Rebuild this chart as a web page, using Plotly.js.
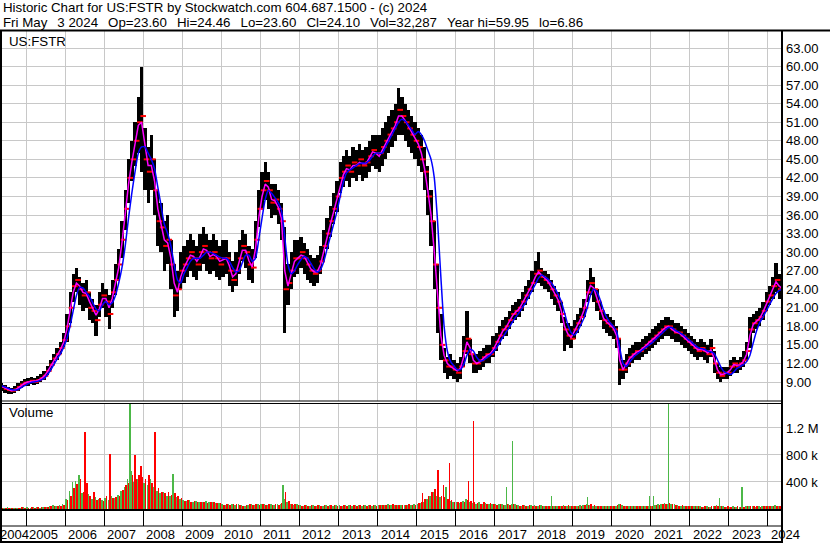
<!DOCTYPE html>
<html><head><meta charset="utf-8">
<script src="https://cdn.plot.ly/plotly-3.0.1.min.js"></script>
<style>html,body{margin:0;padding:0;background:#fff;overflow:hidden}#chart{width:830px;height:543px}</style>
</head><body><div id="chart"></div>
<script>
// ---------- DATA (monthly) ----------
const firstYear = 2004, firstMonth = 5; // May 2004 .. May 2024

const high = [
 8.9, 8.5, 8.2, 8.1, 8.4, 8.8, 9.2, 9.5,
 9.6, 9.8, 9.7, 9.9, 10.3, 10.8, 11.6, 12.6, 13.6, 14.5, 15.5, 17.0,
 20, 23.5, 26.5, 27.5, 26, 25, 25.5, 23.5, 22.5, 21.5, 23.5, 25,
 24, 23, 25.5, 28, 30.5, 35, 40, 45, 48, 51, 55, 60,
 50, 47, 49, 45, 40, 38, 35, 36, 32, 28, 27, 30,
 31, 32, 33, 32, 31, 33, 34, 33, 32, 33, 32, 31,
 32, 32, 30, 28.5, 30, 32, 33.5, 33, 31, 30.5, 35, 40,
 43, 44.5, 43, 41, 41, 40, 38, 34, 28, 30, 32, 32,
 32.5, 31.5, 30.5, 29.5, 29, 29.5, 31, 33.5, 35.5, 37.5, 39.5, 41.5,
 44.5, 45.5, 46.5, 45.5, 47, 46.5, 47.5, 46.5, 47, 48, 49, 49,
 49, 50, 51, 52, 53, 54, 56.5, 55, 54, 53, 52, 51,
 50, 49, 47, 44, 40, 35, 28, 20, 14.5, 13, 13.5, 12.5,
 12, 13, 16.5, 20.5, 16, 13.5, 13.5, 14, 14.5, 15, 15, 16.5,
 17, 18, 19, 19.5, 20.5, 21.5, 22, 22.5, 23.5, 24.5, 25.5, 27,
 28.5, 30, 27.5, 27, 26.5, 25.5, 24.5, 23.5, 22, 19.5, 18.5, 18,
 19, 20, 21, 22.5, 25.5, 27.5, 26, 24, 22, 20.5, 20, 19.5,
 19, 18, 16, 12.5, 13.5, 14.5, 15, 15.5, 15.5, 16, 16.5, 17,
 17.5, 18, 18.5, 19, 19.5, 19.5, 19, 18.5, 18.5, 18, 17.5, 17,
 16.5, 16, 15.5, 16, 15.5, 15, 16, 14, 12, 11.5, 11.5, 11.5,
 12.5, 13, 12.5, 13, 14, 15.5, 19.5, 20, 20.5, 21, 22, 23.5,
 24.5, 26, 28.2, 26.5, 24.5
];
const low = [
 7.6, 7.3, 7.0, 7.0, 7.2, 7.6, 8.0, 8.3,
 8.4, 8.6, 8.5, 8.7, 9.0, 9.4, 10.1, 11.0, 12.0, 12.6, 13.6, 14.6,
 15.5, 18.5, 22, 23.5, 21.5, 20.5, 21, 19, 18.5, 16.5, 19.5, 21,
 19.5, 17.5, 21, 23, 25.5, 29, 33.5, 38, 41.5, 44, 46, 43,
 40, 38, 40, 36, 31, 30, 27, 28, 24, 19.5, 20.5, 24,
 25, 26, 27, 26, 25.5, 27, 28, 27, 26.5, 27, 26, 25.5,
 26, 26.5, 24.5, 23.5, 24.5, 26.5, 28.5, 27.5, 25.5, 25, 29, 34,
 37, 38.5, 37, 35.5, 36, 34.5, 32, 17, 21.5, 24, 26, 26.5,
 27.5, 26.5, 25.5, 25, 24.5, 25, 26.5, 28.5, 30.5, 32.5, 34.5, 36.5,
 39.5, 40.5, 41.5, 40.5, 42, 41.5, 42.5, 41.5, 42, 43, 44, 43.5,
 43, 44, 45, 46, 47, 48, 49, 49, 48, 47, 46, 45,
 44, 43, 40, 36, 31, 24, 17, 12.5, 10.5, 9.5, 10, 9.5,
 9, 9.5, 11.5, 13.5, 12, 10.5, 10.5, 11, 11.5, 12, 12, 13,
 14, 15, 16, 16.5, 17.5, 18.5, 19, 19.5, 20.5, 21.5, 22.5, 23.5,
 25, 25, 24.5, 24, 23.5, 22.5, 21.5, 20.5, 18.5, 14, 15, 14.5,
 16, 17, 18, 19.5, 22, 23, 22, 20.5, 19, 17.5, 17, 16.5,
 16, 14.5, 8.5, 9.5, 10.5, 11.5, 12, 12.5, 12.5, 13, 13.5, 14,
 14.5, 15, 15.5, 16, 16.5, 16.5, 16, 15.5, 15.5, 15, 14.5, 14,
 13.5, 13, 12.5, 13, 12.5, 12, 13, 10.5, 9.5, 9, 9.5, 9.5,
 10, 10.5, 10.5, 11, 11.5, 12.5, 14.5, 17, 17.5, 18, 19, 20.5,
 21.5, 22.5, 23.5, 22.5, 23.6
];
const close = [
 8.2, 7.9, 7.7, 7.6, 7.8, 8.2, 8.6, 8.9,
 9.0, 9.2, 9.0, 9.3, 9.6, 10.0, 10.8, 11.8, 12.8, 13.5, 14.5, 15.8,
 18, 21, 24.5, 25.5, 24, 23, 23.5, 21, 20.5, 19, 21.5, 23,
 22, 20, 23.5, 25.5, 28, 32, 37, 42, 45, 48, 51, 52,
 45, 43, 45, 40, 35, 34, 31, 32, 28, 23, 24, 27,
 28, 29, 30, 29, 28, 30, 31, 30, 29, 30, 29, 28,
 29, 29, 27, 25.5, 27, 29, 31, 30, 28, 27.5, 32, 37,
 40, 41.5, 40, 38, 38.5, 37, 35, 24, 25, 27, 29, 29,
 30, 29, 28, 27, 26.5, 27, 28.5, 31, 33, 35, 37, 39,
 42, 43, 44, 43, 44.5, 44, 45, 44, 44.5, 45.5, 46.5, 46,
 46, 47, 48, 49, 50, 51, 53, 52, 51, 50, 49, 48,
 47, 45, 43, 39, 35, 28, 21, 15, 12.5, 11.5, 11.5, 11,
 10.5, 11.5, 14, 16, 13.5, 12, 12, 12.5, 13, 13.5, 13.5, 14.5,
 15.5, 16.5, 17.5, 18, 19, 20, 20.5, 21, 22, 23, 24, 25,
 26.5, 27, 26, 25.5, 25, 24, 23, 22, 20, 17.5, 16.5, 16,
 17.5, 18.5, 19.5, 21, 23.5, 25, 24, 22, 20.5, 19, 18.5, 18,
 17.5, 16, 11, 11, 12, 13, 13.5, 14, 14, 14.5, 15, 15.5,
 16, 16.5, 17, 17.5, 18, 18, 17.5, 17, 17, 16.5, 16, 15.5,
 15, 14.5, 14, 14.5, 14, 13.5, 14.5, 12, 10.5, 10, 10.5, 10.5,
 11.5, 12, 11.5, 12, 12.5, 14, 17.5, 18.5, 19, 19.5, 20.5, 22,
 23, 24.5, 25.5, 24, 24.1
];
const maFast = [
 8.3, 8.0, 7.8, 7.6, 7.7, 8.0, 8.4, 8.8,
 9.0, 9.1, 9.1, 9.2, 9.5, 9.9, 10.6, 11.5, 12.5, 13.3, 14.2, 15.4,
 17.5, 20.5, 23.5, 25, 24.5, 23.5, 23.3, 22, 20.8, 19.8, 20.8, 22.5,
 22.5, 21, 22.5, 25, 27.5, 31.5, 36.5, 41, 44.5, 47.5, 50.5, 51,
 47, 44, 44, 41.5, 37, 34.5, 32, 31.5, 29, 25, 23.5, 26,
 27.5, 28.5, 29.5, 29.3, 28.5, 29.3, 30.5, 30.3, 29.3, 29.6, 29.3, 28.5,
 28.8, 29, 27.8, 26, 26.5, 28.3, 30.3, 30.3, 28.6, 27.6, 30.5, 35.5,
 39, 41, 40.5, 38.5, 38.3, 37.3, 35.5, 27, 24.5, 26.5, 28.5, 29,
 29.5, 29.3, 28.3, 27.3, 26.8, 26.8, 28, 30.3, 32.5, 34.5, 36.5, 38.5,
 41, 42.5, 43.5, 43.3, 44, 44, 44.5, 44.3, 44.3, 45.2, 46.2, 46,
 45.5, 46.5, 47.5, 48.5, 49.5, 50.5, 52, 52, 51.3, 50.3, 49.3, 48.3,
 47.5, 46, 43.5, 40, 36, 30, 23, 16.5, 13.3, 12, 11.5, 11.2,
 10.8, 11.2, 13, 15.5, 14.5, 12.5, 12, 12.3, 12.8, 13.3, 13.5, 14.2,
 15.2, 16.2, 17.2, 17.8, 18.7, 19.7, 20.3, 20.8, 21.7, 22.7, 23.7, 24.7,
 26, 26.8, 26.3, 25.7, 25.2, 24.3, 23.3, 22.3, 20.5, 18, 16.8, 16.2,
 17.2, 18.2, 19.2, 20.6, 23, 24.6, 24.2, 22.5, 20.8, 19.3, 18.7, 18.2,
 17.7, 16.5, 12.5, 11, 11.8, 12.8, 13.3, 13.8, 14, 14.4, 14.9, 15.4,
 15.8, 16.3, 16.8, 17.3, 17.8, 18, 17.6, 17.1, 17, 16.6, 16.1, 15.6,
 15.2, 14.7, 14.2, 14.3, 14.1, 13.7, 14.2, 12.8, 11, 10.2, 10.3, 10.5,
 11, 11.8, 11.7, 11.8, 12.3, 13.5, 16.5, 18.3, 18.8, 19.3, 20.3, 21.5,
 22.7, 24, 25.2, 24.5, 24.1
];
const maSlow = [
 8.4, 8.2, 8.0, 7.8, 7.7, 7.8, 8.1, 8.4,
 8.7, 8.9, 9.0, 9.1, 9.3, 9.6, 10.1, 10.9, 11.8, 12.7, 13.5, 14.6,
 16, 18, 20.5, 23, 24.3, 24.2, 23.5, 22.8, 21.8, 20.8, 20.5, 21.5,
 22, 21.5, 21.8, 23, 25, 27.5, 31, 35.5, 39.5, 43, 46, 47,
 47, 46, 45, 43.5, 40.5, 37.5, 34.5, 33, 31, 28, 25.5, 25,
 26.5, 27.5, 28.5, 29, 29, 29, 29.5, 30, 30, 29.8, 29.5, 29.2,
 29, 29, 28.5, 27.5, 26.8, 27, 28.3, 29.5, 29.5, 28.5, 29, 32,
 35.5, 38.5, 40, 39.5, 38.8, 38, 36.8, 32.5, 28, 26.5, 27, 28,
 28.8, 29.3, 29, 28.2, 27.3, 26.8, 27.2, 28.5, 30.5, 32.5, 34.5, 36.5,
 39, 41.3, 42.8, 43.3, 43.6, 44, 44.3, 44.4, 44.4, 44.8, 45.5, 46,
 46, 46, 47, 48, 49, 50, 51, 51.5, 51.2, 50.5, 49.8, 49,
 49.5, 49, 48, 46.5, 45, 42, 35, 26, 18, 14, 12.3, 11.6,
 11, 11, 11.8, 13.3, 14.3, 14, 13, 12.4, 12.5, 12.9, 13.3, 13.8,
 14.5, 15.3, 16.2, 17, 17.8, 18.7, 19.5, 20.2, 21, 21.8, 22.8, 23.8,
 24.8, 25.8, 26.3, 26, 25.6, 25, 24.2, 23.2, 22, 20.2, 18.3, 17,
 16.6, 17.2, 18.2, 19.3, 21, 23, 24, 23.6, 22.2, 20.6, 19.4, 18.6,
 18, 17.2, 14.5, 12, 11.5, 12.2, 12.9, 13.4, 13.8, 14.2, 14.6, 15,
 15.4, 15.9, 16.4, 16.9, 17.4, 17.8, 17.8, 17.4, 17.1, 16.8, 16.4, 15.9,
 15.5, 15, 14.6, 14.4, 14.3, 14, 13.9, 13.6, 12.6, 11.5, 10.7, 10.4,
 10.2, 10.6, 11.2, 11.5, 11.8, 12.3, 13.3, 15.3, 17.2, 18.6, 19.5, 20.5,
 21.5, 22.5, 23.3, 23.8, 24
];
// volume, thousands of shares (up-day and down-day envelopes per month)
const volUpK = [
 20, 15, 25, 15, 20, 15, 20, 25,
 25, 20, 30, 25, 20, 30, 35, 40, 55, 45, 60, 70,
 150, 260, 400, 420, 300, 240, 180, 220, 150, 180, 150, 130,
 160, 130, 200, 160, 210, 260, 330, 450, 560, 400, 450, 380,
 380, 350, 440, 320, 260, 230, 250, 190, 200, 250, 180, 150,
 140, 120, 130, 110, 120, 100, 110, 120, 100, 110, 95, 85,
 70, 60, 70, 80, 60, 70, 60, 50, 60, 70, 60, 70,
 80, 70, 60, 70, 60, 70, 80, 150, 100, 80, 60, 70,
 60, 50, 60, 50, 55, 45, 60, 50, 55, 60, 50, 55,
 55, 50, 60, 55, 50, 60, 55, 50, 60, 55, 50, 55,
 60, 55, 60, 70, 60, 55, 65, 60, 55, 60, 65, 70,
 80, 90, 100, 150, 200, 250, 200, 180, 150, 200, 120, 100,
 100, 90, 120, 150, 110, 90, 80, 100, 80, 90, 80, 70,
 70, 80, 70, 60, 70, 80, 70, 60, 50, 60, 50, 60,
 60, 50, 60, 50, 45, 50, 45, 50, 40, 55, 45, 50,
 45, 50, 55, 60, 70, 60, 50, 45, 50, 40, 45, 40,
 40, 50, 70, 60, 50, 45, 50, 40, 45, 50, 40, 45,
 50, 60, 70, 80, 90, 70, 80, 70, 60, 50, 45, 50,
 45, 40, 45, 40, 35, 40, 35, 40, 60, 45, 40, 35,
 35, 40, 35, 30, 40, 45, 50, 40, 35, 40, 45, 40,
 50, 45, 55, 50, 40
];
const volDownK = [
 15, 20, 15, 20, 15, 20, 25, 20,
 20, 25, 20, 30, 25, 25, 30, 45, 40, 50, 50, 60,
 130, 190, 310, 370, 450, 250, 310, 190, 180, 130, 160, 120,
 190, 170, 160, 180, 200, 280, 350, 380, 500, 440, 500, 470,
 440, 500, 380, 350, 310, 250, 230, 250, 210, 230, 190, 160,
 120, 130, 110, 120, 100, 110, 100, 90, 110, 100, 90, 95,
 60, 70, 60, 70, 80, 60, 50, 60, 70, 60, 70, 60,
 70, 60, 70, 60, 70, 60, 90, 250, 120, 70, 70, 60,
 50, 60, 50, 55, 45, 55, 50, 60, 50, 55, 60, 50,
 50, 55, 50, 60, 55, 50, 60, 55, 50, 60, 55, 50,
 55, 60, 65, 60, 70, 60, 55, 65, 60, 70, 60, 65,
 90, 100, 150, 200, 250, 300, 250, 200, 180, 150, 130, 110,
 110, 100, 100, 130, 120, 100, 90, 80, 100, 80, 90, 80,
 60, 70, 60, 70, 60, 70, 60, 50, 60, 50, 60, 50,
 50, 60, 50, 45, 50, 45, 50, 40, 50, 45, 55, 45,
 50, 45, 50, 55, 60, 70, 60, 50, 45, 50, 40, 45,
 45, 60, 80, 50, 45, 50, 40, 45, 40, 45, 50, 40,
 45, 55, 65, 70, 80, 90, 70, 60, 50, 60, 50, 45,
 40, 45, 40, 35, 40, 35, 40, 45, 50, 40, 35, 40,
 30, 35, 40, 35, 35, 40, 45, 50, 40, 35, 40, 45,
 45, 50, 50, 45, 35
];
// single-day volume spikes
const spikeDates = ['2006-05-10','2006-07-05','2006-07-25','2006-09-27','2007-02-25','2007-09-01','2007-10-18','2007-12-12','2008-04-22','2008-10-08','2011-08-03','2015-02-25','2015-07-22','2015-09-10','2015-10-01','2015-11-05','2016-04-30','2016-06-18','2017-04-23','2017-06-15','2018-06-15','2019-05-20','2020-12-20','2021-01-25','2021-06-15','2022-10-05','2023-05-01'];
const spikeVolK  = [500, 1140, 380, 250, 820, 1600, 800, 640, 1140, 520, 350, 230, 580, 350, 320, 680, 410, 1300, 320, 1000, 200, 180, 190, 200, 1550, 160, 330];
const spikeUp    = [1, 0, 0, 0, 0, 1, 0, 0, 0, 1, 1, 0, 0, 0, 1, 0, 0, 0, 1, 1, 1, 1, 1, 1, 1, 1, 1];

const priceTicks = [9, 12, 15, 18, 21, 24, 27, 30, 33, 36, 39, 42, 45, 48, 51, 54, 57, 60, 63];
const volTicks = [400000, 800000, 1200000];
const volTickText = ['400 k', '800 k', '1.2 M'];
const yearLabels = ['2004','2005','2006','2007','2008','2009','2010','2011','2012','2013','2014','2015','2016','2017','2018','2019','2020','2021','2022','2023','2024'];

const headerLine1 = 'Historic Chart for US:FSTR by Stockwatch.com 604.687.1500 - (c) 2024';
const headerLine2 = ['Fri May', '3 2024', 'Op=23.60', 'Hi=24.46', 'Lo=23.60', 'Cl=24.10', 'Vol=32,287', 'Year hi=59.95', 'lo=6.86'];

// ---------- BUILD ----------
const W = 830, H = 543, DAY = 86400000;
const FONT = 'Liberation Sans, Arial, sans-serif';
const months = high.map((_, i) => {
  const m = firstMonth - 1 + i;
  const y = firstYear + Math.floor(m / 12);
  return y + '-' + String(m % 12 + 1).padStart(2, '0') + '-01';
});
const px = v => v / W;
const py = v => 1 - v / H;
const GREEN = '#4cb848', RED = '#ff0000';
const GAP = '\u00a0\u00a0\u2009';

const traces = [
  { type: 'bar', x: months, base: low, y: high.map((h, i) => h - low[i]),
    offset: 0, width: 31 * DAY, marker: { color: '#000', line: { width: 0 } },
    xaxis: 'x', yaxis: 'y', hoverinfo: 'skip' },
  { type: 'scatter', mode: 'markers', x: months, y: close, xperiod: 'M1', xperiodalignment: 'end',
    marker: { symbol: 'line-ew', size: 4, line: { color: RED, width: 2 } }, xaxis: 'x', yaxis: 'y' },
  { type: 'scatter', mode: 'lines', x: months, y: maFast, xperiod: 'M1', xperiodalignment: 'middle',
    line: { color: '#ff00ff', width: 1.5 }, xaxis: 'x', yaxis: 'y' },
  { type: 'scatter', mode: 'lines', x: months, y: maSlow, xperiod: 'M1', xperiodalignment: 'middle',
    line: { color: '#0000ff', width: 1.5, shape: 'spline', smoothing: 0.6 }, xaxis: 'x', yaxis: 'y' },
  { type: 'bar', x: months, y: volUpK.map(v => v * 1000), offset: 0, width: 15 * DAY,
    marker: { color: GREEN, line: { width: 0 } }, xaxis: 'x', yaxis: 'y2' },
  { type: 'bar', x: months, y: volDownK.map(v => v * 1000), offset: 15 * DAY, width: 15 * DAY,
    marker: { color: RED, line: { width: 0 } }, xaxis: 'x', yaxis: 'y2' },
  { type: 'bar', x: spikeDates, y: spikeVolK.map(v => v * 1000), width: 15 * DAY,
    marker: { color: spikeUp.map(u => u ? GREEN : RED), line: { width: 0 } }, xaxis: 'x', yaxis: 'y2' }
];

const shapes = [];
const line = (x0, y0, x1, y1, w) => shapes.push({ type: 'line', xref: 'paper', yref: 'paper',
  x0: px(x0), y0: py(y0), x1: px(x1), y1: py(y1), line: { color: '#000', width: w } });
line(0, 30.5, 830, 30.5, 2);
line(1, 30, 1, 543, 2);
line(782, 30, 782, 543, 2);
line(0, 401, 782, 401, 1);
line(0, 403.5, 782, 403.5, 1);
line(0, 510, 782, 510, 2);
line(0, 526, 782, 526, 1);
line(0, 542, 782, 542, 2);

const annotations = [
  { text: headerLine1, x: px(1), y: py(8) },
  { text: headerLine2.join(GAP), x: px(1), y: py(22) },
  { text: 'US:FSTR', x: px(7), y: py(41) },
  { text: 'Volume', x: px(7), y: py(413) }
].map(a => Object.assign({ xref: 'paper', yref: 'paper', xanchor: 'left', yanchor: 'middle',
  showarrow: false, font: { family: FONT, size: 13.3, color: '#000' } }, a));

yearLabels.forEach((yl, i) => {
  const a = { text: yl, y: py(534), yref: 'paper', yanchor: 'middle', xanchor: 'left', showarrow: false,
    font: { family: FONT, size: 13, color: '#000' } };
  if (i === 0) { a.xref = 'paper'; a.x = px(-2); }
  else { a.xref = 'x'; a.x = yl + '-01-01'; a.xshift = 1; }
  annotations.push(a);
});

const layout = {
  width: W, height: H, margin: { l: 0, r: 0, t: 0, b: 0 },
  paper_bgcolor: '#fff', plot_bgcolor: '#fff', showlegend: false, barmode: 'overlay', bargap: 0,
  font: { family: FONT, size: 13, color: '#000' },
  xaxis: { type: 'date', domain: [0, px(782)], range: ['2004-05-01', '2024-05-12'], anchor: 'y2',
    showgrid: true, gridcolor: '#c8c8c8', gridwidth: 1, tick0: '2005-01-01', dtick: 'M12',
    showticklabels: false, ticks: 'outside', ticklen: 16, tickcolor: '#000', tickwidth: 1,
    zeroline: false, showline: false, fixedrange: true },
  yaxis: { domain: [py(401), py(31)], range: [5.93, 65.75], side: 'right', anchor: 'x',
    tickvals: priceTicks, tickformat: '.2f', showgrid: true, gridcolor: '#c8c8c8', gridwidth: 1,
    ticks: '', ticklabelstandoff: 3, zeroline: false, showline: false,
    tickfont: { family: FONT, size: 13, color: '#000' } },
  yaxis2: { domain: [py(509), py(403)], range: [0, 1.57e6], side: 'right', anchor: 'x',
    tickvals: volTicks, ticktext: volTickText, showgrid: true, gridcolor: '#c8c8c8', gridwidth: 1,
    ticks: '', ticklabelstandoff: 3, zeroline: false, showline: false,
    tickfont: { family: FONT, size: 13, color: '#000' } },
  shapes: shapes, annotations: annotations
};

Plotly.newPlot('chart', traces, layout, { staticPlot: true, displayModeBar: false });
</script>
</body></html>
